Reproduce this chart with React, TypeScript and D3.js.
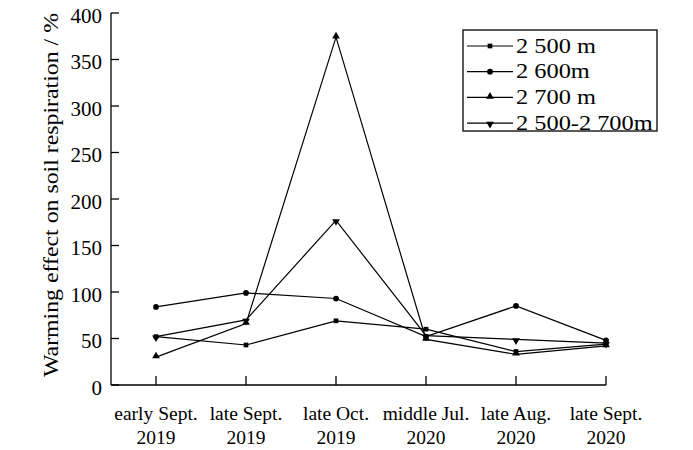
import { useRef, useEffect } from 'react';
import * as d3 from 'd3';

const W = 693;
const H = 450;

const categories = [
  ['early Sept.', '2019'],
  ['late Sept.', '2019'],
  ['late Oct.', '2019'],
  ['middle Jul.', '2020'],
  ['late Aug.', '2020'],
  ['late Sept.', '2020'],
];
const yTicks = [0, 50, 100, 150, 200, 250, 300, 350, 400];

const s2500 = [52, 43, 69, 60, 36, 44];
const s2600 = [84, 99, 93, 52, 85, 48];
const s2700 = [30, 66, 374, 49, 33, 42];
const s2500to2700 = [52, 70, 177, 53, 49, 45];

const seriesNames = ['2 500 m', '2 600m', '2 700 m', '2 500-2 700m'];
const seriesValues = [s2500, s2600, s2700, s2500to2700];
const markerTypes = [d3.symbolSquare, d3.symbolCircle, d3.symbolTriangle, 'down'] as const;

const FONT = "'Liberation Serif', 'DejaVu Serif', serif";

// stretch a text node horizontally by factor (the original text is wider than Times)
function stretch(t: any, k: number) {
  const node = t.node() as SVGTextElement;
  const len = node.getComputedTextLength();
  t.attr('textLength', len * k).attr('lengthAdjust', 'spacingAndGlyphs');
}

export default function App() {
  const svgRef = useRef<SVGSVGElement>(null);

  useEffect(() => {
    const svg = d3.select(svgRef.current);
    svg.selectAll('*').remove();

    const x = d3
      .scalePoint<number>()
      .domain(categories.map((_, i) => i))
      .range([156, 606]);
    const y = d3.scaleLinear().domain([0, 400]).range([385, 13]);
    const axisLeft = 111;

    svg.append('rect').attr('width', W).attr('height', H).attr('fill', '#fff');

    const marker = (g: any, type: any, cx: number, cy: number) => {
      if (type === 'down') {
        g.append('path')
          .attr('d', d3.symbol().type(d3.symbolTriangle).size(26)())
          .attr('transform', `translate(${cx},${cy + 1}) rotate(180)`)
          .attr('fill', '#000');
      } else {
        const size = type === d3.symbolSquare ? 22 : 26;
        const dy = type === d3.symbolTriangle ? -1 : 0;
        g.append('path')
          .attr('d', d3.symbol().type(type).size(size)())
          .attr('transform', `translate(${cx},${cy + dy})`)
          .attr('fill', '#000');
      }
    };

    // Axes
    svg
      .append('line')
      .attr('x1', axisLeft)
      .attr('x2', axisLeft)
      .attr('y1', y(400))
      .attr('y2', y(0))
      .attr('stroke', '#000')
      .attr('stroke-width', 1.3);
    svg
      .append('line')
      .attr('x1', axisLeft)
      .attr('x2', x(categories.length - 1)!)
      .attr('y1', y(0))
      .attr('y2', y(0))
      .attr('stroke', '#000')
      .attr('stroke-width', 1.3);

    yTicks.forEach((t) => {
      svg
        .append('line')
        .attr('x1', axisLeft)
        .attr('x2', axisLeft + 8)
        .attr('y1', y(t))
        .attr('y2', y(t))
        .attr('stroke', '#000')
        .attr('stroke-width', 1.3);
      svg
        .append('text')
        .attr('x', axisLeft - 9)
        .attr('y', y(t) + 9.5)
        .attr('text-anchor', 'end')
        .style('font-family', FONT)
        .style('font-size', '21px')
        .text(t);
    });

    categories.forEach((c, i) => {
      const cx = x(i)!;
      svg
        .append('line')
        .attr('x1', cx)
        .attr('x2', cx)
        .attr('y1', y(0))
        .attr('y2', y(0) - 9)
        .attr('stroke', '#000')
        .attr('stroke-width', 1.3);
      svg
        .append('text')
        .attr('x', cx)
        .attr('y', 420)
        .attr('text-anchor', 'middle')
        .style('font-family', FONT)
        .style('font-size', '19.5px')
        .text(c[0]);
      svg
        .append('text')
        .attr('x', cx)
        .attr('y', 444)
        .attr('text-anchor', 'middle')
        .style('font-family', FONT)
        .style('font-size', '19.5px')
        .text(c[1]);
    });

    // Y title
    const title = svg
      .append('text')
      .attr('transform', `translate(58,195) rotate(-90)`)
      .attr('text-anchor', 'middle')
      .style('font-family', FONT)
      .style('font-size', '21px')
      .text('Warming effect on soil respiration / %');
    title.attr('textLength', 364).attr('lengthAdjust', 'spacingAndGlyphs');

    // Series
    const line = d3
      .line<number>()
      .x((_, i) => x(i)!)
      .y((d) => y(d));
    seriesValues.forEach((vals, si) => {
      const g = svg.append('g');
      g.append('path')
        .attr('d', line(vals))
        .attr('fill', 'none')
        .attr('stroke', '#000')
        .attr('stroke-width', 1.2);
      vals.forEach((v, i) => marker(g, markerTypes[si], x(i)!, y(v)));
    });

    // Legend
    const lg = svg.append('g');
    lg.append('rect')
      .attr('x', 463)
      .attr('y', 30)
      .attr('width', 194)
      .attr('height', 101)
      .attr('fill', '#fff')
      .attr('stroke', '#000')
      .attr('stroke-width', 1.3);
    seriesNames.forEach((name, i) => {
      const ly = 46 + i * 25.7;
      lg.append('line')
        .attr('x1', 467)
        .attr('x2', 513)
        .attr('y1', ly)
        .attr('y2', ly)
        .attr('stroke', '#000')
        .attr('stroke-width', 1.2);
      marker(lg, markerTypes[i], 490, ly);
      const t = lg
        .append('text')
        .attr('x', 516)
        .attr('y', ly + 6.5)
        .style('font-family', FONT)
        .style('font-size', '21px')
        .text(name);
      stretch(t, 1.16);
    });
  }, []);

  return (
    <svg
      ref={svgRef}
      width={W}
      height={H}
      style={{ position: 'absolute', left: 0, top: 0, display: 'block' }}
    />
  );
}
